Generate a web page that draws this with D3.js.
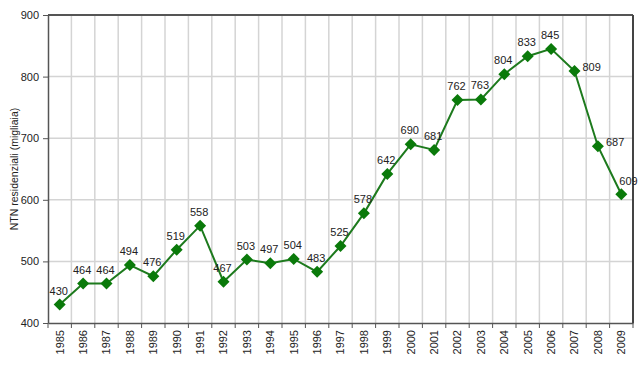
<!DOCTYPE html>
<html>
<head>
  <meta charset="utf-8">
  <script src="https://d3js.org/d3.v7.min.js"></script>
  <style>
    body { margin: 0; background: #fff; }
    text { font-family: "Liberation Sans", Arial, sans-serif; fill: #222; }
    .grid line { stroke: #d4d4d4; stroke-width: 1.5; }
    .axis path, .axis line { stroke: #555; }
  </style>
</head>
<body>
  <script>
    // data
    var years = ["1985", "1986", "1987", "1988", "1989", "1990", "1991", "1992", "1993",
      "1994", "1995", "1996", "1997", "1998", "1999", "2000", "2001", "2002", "2003",
      "2004", "2005", "2006", "2007", "2008", "2009"];
    var ntn = [430, 464, 464, 494, 476, 519, 558, 467, 503, 497, 504, 483, 525, 578,
      642, 690, 681, 762, 763, 804, 833, 845, 809, 687, 609];
    var yTicks = [400, 500, 600, 700, 800, 900];
    var yTitle = "NTN residenziali (migliaia)";

    var data = years.map(function (y, i) { return { year: y, value: ntn[i] }; });

    var width = 640, height = 372;
    var margin = { top: 15, right: 7, bottom: 49, left: 48 };
    var w = width - margin.left - margin.right,
      h = height - margin.top - margin.bottom;

    var svg = d3.select("body").append("svg")
      .attr("width", width)
      .attr("height", height);

    var g = svg.append("g")
      .attr("transform", "translate(" + margin.left + "," + margin.top + ")");

    var x = d3.scaleBand().domain(years).range([0, w]);
    var y = d3.scaleLinear().domain([400, 900]).range([h, 0]);

    //gridlines
    var grid = g.append("g").attr("class", "grid");
    grid.selectAll(".hg")
      .data(yTicks.slice(1, -1))
      .enter().append("line")
      .attr("x1", 0).attr("x2", w)
      .attr("y1", function (d) { return y(d); })
      .attr("y2", function (d) { return y(d); });
    grid.selectAll(".vg")
      .data(years.slice(1))
      .enter().append("line")
      .attr("x1", function (d) { return x(d); })
      .attr("x2", function (d) { return x(d); })
      .attr("y1", 0).attr("y2", h);

    // frame top and right
    g.append("line").attr("x1", 0).attr("x2", w).attr("y1", 0).attr("y2", 0)
      .attr("stroke", "#555").attr("stroke-width", 2);
    g.append("line").attr("x1", w).attr("x2", w).attr("y1", 0).attr("y2", h)
      .attr("stroke", "#444").attr("stroke-width", 2);

    // y axis
    var yAxis = g.append("g").attr("class", "axis")
      .call(d3.axisLeft(y).tickValues(yTicks).tickSize(5).tickSizeOuter(0));
    yAxis.select(".domain").attr("stroke-width", 1.5);
    yAxis.selectAll("text").attr("font-size", 11).attr("dx", -1);

    // x axis, ticks on band edges
    var xAxis = g.append("g").attr("class", "axis")
      .attr("transform", "translate(0," + h + ")")
      .call(d3.axisBottom(x).tickSize(0).tickSizeOuter(0));
    xAxis.select(".domain").attr("stroke-width", 1.5);
    xAxis.selectAll(".tick text")
      .attr("font-size", 11)
      .attr("transform", "rotate(-90)")
      .attr("text-anchor", "end")
      .attr("x", -7)
      .attr("y", 0)
      .attr("dy", "0.35em");
    xAxis.selectAll(".edge")
      .data(years.concat(["end"]))
      .enter().append("line")
      .attr("class", "edge")
      .attr("x1", function (d, i) { return i * x.step(); })
      .attr("x2", function (d, i) { return i * x.step(); })
      .attr("y1", 0).attr("y2", 5)
      .attr("stroke", "#555");

    // y title
    svg.append("text")
      .attr("transform", "translate(18," + (margin.top + h / 2) + ") rotate(-90)")
      .attr("text-anchor", "middle")
      .attr("font-size", 10.5)
      .text(yTitle);

    var cx = function (d) { return x(d.year) + x.bandwidth() / 2; };

    // line
    g.append("path")
      .datum(data)
      .attr("fill", "none")
      .attr("stroke", "#1d7a1d")
      .attr("stroke-width", 2)
      .attr("d", d3.line().x(cx).y(function (d) { return y(d.value); }));

    // diamond markers
    g.selectAll(".pt")
      .data(data)
      .enter().append("path")
      .attr("class", "pt")
      .attr("transform", function (d) { return "translate(" + cx(d) + "," + y(d.value) + ")"; })
      .attr("d", "M0,-6L6,0L0,6L-6,0Z")
      .attr("fill", "#0a7a0a");

    // value labels: above, except the final drop where they sit to the right
    var lastDrop = data.length - 3, last = data.length - 1;
    g.selectAll(".lbl")
      .data(data)
      .enter().append("text")
      .attr("class", "lbl")
      .attr("font-size", 11)
      .attr("x", function (d, i) {
        if (i == last) return cx(d) - 2;
        return i >= lastDrop ? cx(d) + 8 : cx(d) - 1;
      })
      .attr("y", function (d, i) {
        if (i == last) return y(d.value) - 9;
        return i >= lastDrop ? y(d.value) : y(d.value) - 10;
      })
      .attr("text-anchor", function (d, i) { return i >= lastDrop ? "start" : "middle"; })
      .text(function (d) { return d.value; });
  </script>
</body>
</html>
